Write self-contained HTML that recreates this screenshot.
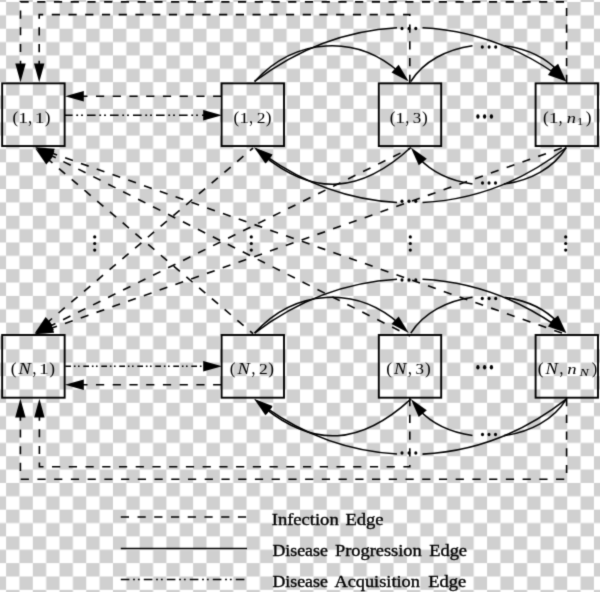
<!DOCTYPE html>
<html><head><meta charset="utf-8"><style>
html,body{margin:0;padding:0;background:#fff;}
body{width:600px;height:592px;overflow:hidden;}
svg{display:block;filter:grayscale(1);}
text{font-family:"Liberation Serif",serif;fill:#000;}
.l{fill:none;stroke:#000;stroke-width:1.6px;}
.c{fill:none;stroke:#000;stroke-width:1.55px;}
.b{fill:none;stroke:#000;stroke-width:1.9px;}
.lg{stroke:#000;stroke-width:0.35px;}
</style></head><body>
<svg width="600" height="592" viewBox="0 0 600 592">
<defs><filter id="bl" x="0" y="0" width="600" height="592" filterUnits="userSpaceOnUse" color-interpolation-filters="sRGB"><feConvolveMatrix order="3" kernelMatrix="0.01917 0.10012 0.01917 0.10012 0.52283 0.10012 0.01917 0.10012 0.01917" edgeMode="duplicate" preserveAlpha="true"/></filter><pattern id="ck" x="6.1" y="2.0" width="26.72" height="26.72" patternUnits="userSpaceOnUse">
<rect x="0" y="0" width="26.72" height="26.72" fill="#fff"/>
<rect x="0" y="0" width="13.36" height="13.36" fill="#d0d0d0"/>
<rect x="13.36" y="13.36" width="13.36" height="13.36" fill="#d0d0d0"/>
</pattern></defs>
<g filter="url(#bl)"><rect x="0" y="0" width="600" height="592" fill="url(#ck)"/>
<rect x="2.15" y="83.35" width="62.5" height="62.7" class="b"/>
<rect x="221.6" y="83.35" width="62.4" height="62.7" class="b"/>
<rect x="378.8" y="83.35" width="62.4" height="62.7" class="b"/>
<rect x="535.6" y="83.35" width="62.4" height="62.7" class="b"/>
<rect x="2.15" y="335" width="62.5" height="62.7" class="b"/>
<rect x="221.6" y="335" width="62.4" height="62.7" class="b"/>
<rect x="378.8" y="335" width="62.4" height="62.7" class="b"/>
<rect x="535.6" y="335" width="62.4" height="62.7" class="b"/>
<path d="M254.6 81.5 C295.09 37.11 356.1 34.03 399.43 72.27" class="c"/>
<path d="M408.8 81.5 L391.54 72.42 L398.66 64.84 Z"/>
<path d="M254.6 81.5 C298.52 48.4 347.55 30.47 397 27.72" class="c"/>
<path d="M422.49 27.65 C468.45 29.94 514.08 45.33 555.63 73.82" class="c"/>
<path d="M566.3 81.5 L547.94 74.92 L553.93 66.42 Z"/>
<path d="M410.8 81.5 C423.62 61.15 447.13 49.22 472.5 45.7" class="c"/>
<path d="M504.5 45.69 C525.24 48.54 544.75 57.03 558.2 71.13" class="c"/>
<path d="M566.3 81.5 L550.16 70.55 L558.08 63.81 Z"/>
<ellipse cx="402" cy="28.4" rx="1.55" ry="1.75"/>
<ellipse cx="409" cy="28.4" rx="1.55" ry="1.75"/>
<ellipse cx="415.8" cy="28.4" rx="1.55" ry="1.75"/>
<ellipse cx="482.3" cy="47" rx="1.55" ry="1.75"/>
<ellipse cx="489.1" cy="47" rx="1.55" ry="1.75"/>
<ellipse cx="495.7" cy="47" rx="1.55" ry="1.75"/>
<path d="M410.8 147.5 C360.63 193.45 313.98 196.31 264.25 156.09" class="c"/>
<path d="M254.3 147.5 L272.05 155.59 L265.36 163.56 Z"/>
<path d="M566.3 147.5 C522.72 181.64 472.84 199.99 422.5 202.54" class="c"/>
<path d="M397.01 202.48 C351.05 199.95 305.52 184.24 264.85 155.37" class="c"/>
<path d="M254.3 147.5 L272.55 154.39 L266.41 162.79 Z"/>
<path d="M566.3 147.5 C553.54 168.4 529.69 180.58 504 184.04" class="c"/>
<path d="M472.5 183.96 C451.68 181.04 432.12 172.38 418.75 157.98" class="c"/>
<path d="M410.8 147.5 L426.79 158.67 L418.78 165.3 Z"/>
<ellipse cx="402" cy="201.3" rx="1.55" ry="1.75"/>
<ellipse cx="409" cy="201.3" rx="1.55" ry="1.75"/>
<ellipse cx="415.8" cy="201.3" rx="1.55" ry="1.75"/>
<ellipse cx="482.5" cy="183" rx="1.55" ry="1.75"/>
<ellipse cx="489" cy="183" rx="1.55" ry="1.75"/>
<ellipse cx="495.5" cy="183" rx="1.55" ry="1.75"/>
<ellipse cx="477.9" cy="116.5" rx="1.65" ry="2.2"/>
<ellipse cx="484.6" cy="116.5" rx="1.65" ry="2.2"/>
<ellipse cx="491.4" cy="116.5" rx="1.65" ry="2.2"/>
<path d="M254.6 333.1 C295.09 288.71 356.1 285.63 399.43 323.87" class="c"/>
<path d="M408.8 333.1 L391.54 324.02 L398.66 316.44 Z"/>
<path d="M254.6 333.1 C298.52 300 347.55 282.07 397 279.32" class="c"/>
<path d="M422.49 279.25 C468.45 281.54 514.08 296.93 555.63 325.42" class="c"/>
<path d="M566.3 333.1 L547.94 326.52 L553.93 318.02 Z"/>
<path d="M410.8 333.1 C423.62 312.75 447.13 300.82 472.5 297.3" class="c"/>
<path d="M504.5 297.29 C525.24 300.14 544.75 308.63 558.2 322.73" class="c"/>
<path d="M566.3 333.1 L550.16 322.15 L558.08 315.41 Z"/>
<ellipse cx="402" cy="280" rx="1.55" ry="1.75"/>
<ellipse cx="409" cy="280" rx="1.55" ry="1.75"/>
<ellipse cx="415.8" cy="280" rx="1.55" ry="1.75"/>
<ellipse cx="482.3" cy="298.6" rx="1.55" ry="1.75"/>
<ellipse cx="489.1" cy="298.6" rx="1.55" ry="1.75"/>
<ellipse cx="495.7" cy="298.6" rx="1.55" ry="1.75"/>
<path d="M410.8 399.1 C360.63 445.05 313.98 447.91 264.25 407.69" class="c"/>
<path d="M254.3 399.1 L272.05 407.19 L265.36 415.16 Z"/>
<path d="M566.3 399.1 C522.72 433.24 472.84 451.59 422.5 454.14" class="c"/>
<path d="M397.01 454.08 C351.05 451.55 305.52 435.84 264.85 406.97" class="c"/>
<path d="M254.3 399.1 L272.55 405.99 L266.41 414.39 Z"/>
<path d="M566.3 399.1 C553.54 420 529.69 432.18 504 435.64" class="c"/>
<path d="M472.5 435.56 C451.68 432.64 432.12 423.98 418.75 409.58" class="c"/>
<path d="M410.8 399.1 L426.79 410.27 L418.78 416.9 Z"/>
<ellipse cx="402" cy="452.9" rx="1.55" ry="1.75"/>
<ellipse cx="409" cy="452.9" rx="1.55" ry="1.75"/>
<ellipse cx="415.8" cy="452.9" rx="1.55" ry="1.75"/>
<ellipse cx="482.5" cy="434.6" rx="1.55" ry="1.75"/>
<ellipse cx="489" cy="434.6" rx="1.55" ry="1.75"/>
<ellipse cx="495.5" cy="434.6" rx="1.55" ry="1.75"/>
<ellipse cx="477.9" cy="367.29" rx="1.65" ry="2.2"/>
<ellipse cx="484.6" cy="367.29" rx="1.65" ry="2.2"/>
<ellipse cx="491.4" cy="367.29" rx="1.65" ry="2.2"/>
<path d="M221.3 96.3 L78.16 96.3" class="l" stroke-dasharray="8.2 8.53" stroke-dashoffset="0"/>
<path d="M65 96.3 L83.8 91.1 L83.8 101.5 Z"/>
<path d="M64 115.2 L208.84 115.2" class="l" stroke-dasharray="8.6 3.7 1.8 3.0 1.8 4.1" stroke-dashoffset="0"/>
<path d="M222 115.2 L203.2 120.4 L203.2 110 Z"/>
<path d="M64 366.2 L208.84 366.2" class="l" stroke-dasharray="5.7 2.9 1.6 2.5 1.6 3.7" stroke-dashoffset="-1.3"/>
<path d="M222 366.2 L203.2 371.4 L203.2 361 Z"/>
<path d="M221.3 384.8 L78.16 384.8" class="l" stroke-dasharray="8.2 8.53" stroke-dashoffset="0"/>
<path d="M65 384.8 L83.8 379.6 L83.8 390 Z"/>
<path d="M409.8 83 L409.8 14.6 L39.2 14.6 L39.2 69.04" class="l" stroke-dasharray="8.2 8.53" stroke-dashoffset="0"/>
<path d="M39.2 82.2 L34 63.4 L44.4 63.4 Z"/>
<path d="M566.6 83 L566.6 1.9 L20.5 1.9 L20.5 69.04" class="l" stroke-dasharray="8.2 8.53" stroke-dashoffset="0"/>
<path d="M20.5 82.2 L15.3 63.4 L25.7 63.4 Z"/>
<path d="M409.8 398 L409.8 466.7 L39.4 466.7 L39.4 411.96" class="l" stroke-dasharray="8.2 8.53" stroke-dashoffset="0"/>
<path d="M39.4 398.8 L44.6 417.6 L34.2 417.6 Z"/>
<path d="M566.6 398 L566.6 479.3 L20.4 479.3 L20.4 411.96" class="l" stroke-dasharray="8.2 8.53" stroke-dashoffset="0"/>
<path d="M20.4 398.8 L25.6 417.6 L15.2 417.6 Z"/>
<path d="M253 333.6 L45.32 156.93" class="l" stroke-dasharray="8.2 8.53" stroke-dashoffset="4.39"/>
<path d="M35.3 148.4 L52.99 156.62 L46.25 164.54 Z"/>
<path d="M410 336 L47.06 153.41" class="l" stroke-dasharray="8.2 8.53" stroke-dashoffset="4.96"/>
<path d="M35.3 147.5 L54.43 151.3 L49.76 160.59 Z"/>
<path d="M567 334.9 L47.71 151.68" class="l" stroke-dasharray="8.2 8.53" stroke-dashoffset="11.38"/>
<path d="M35.3 147.3 L54.76 148.65 L51.3 158.46 Z"/>
<path d="M253 148.1 L44.74 324.69" class="l" stroke-dasharray="8.2 8.53" stroke-dashoffset="4.18"/>
<path d="M34.7 333.2 L45.68 317.08 L52.4 325.01 Z"/>
<path d="M410 148.4 L46.5 327.87" class="l" stroke-dasharray="8.2 8.53" stroke-dashoffset="6.1"/>
<path d="M34.7 333.7 L49.26 320.71 L53.86 330.04 Z"/>
<path d="M567 146.2 L47.11 329.82" class="l" stroke-dasharray="8.2 8.53" stroke-dashoffset="11.12"/>
<path d="M34.7 334.2 L50.7 323.04 L54.16 332.84 Z"/>
<circle cx="94.7" cy="236.9" r="1.6"/>
<circle cx="94.7" cy="243.5" r="1.6"/>
<circle cx="94.7" cy="250.1" r="1.6"/>
<circle cx="251.3" cy="236.9" r="1.6"/>
<circle cx="251.3" cy="243.5" r="1.6"/>
<circle cx="251.3" cy="250.1" r="1.6"/>
<circle cx="410.3" cy="236.9" r="1.6"/>
<circle cx="410.3" cy="243.5" r="1.6"/>
<circle cx="410.3" cy="250.1" r="1.6"/>
<circle cx="565.7" cy="236.9" r="1.6"/>
<circle cx="565.7" cy="243.5" r="1.6"/>
<circle cx="565.7" cy="250.1" r="1.6"/>
<text transform="matrix(0.1713 0 0 0.172 12.45 122.94)" font-size="100">(</text>
<text transform="matrix(0.195 0 0 0.15 18.15 123.2)" font-size="100">1</text>
<text transform="matrix(0.1477 0 0 0.1947 28.24 123.01)" font-size="100">,</text>
<text transform="matrix(0.195 0 0 0.15 34.75 123.2)" font-size="100">1</text>
<text transform="matrix(0.1713 0 0 0.172 44.75 122.94)" font-size="100">)</text>
<text transform="matrix(0.1713 0 0 0.172 233.5 122.94)" font-size="100">(</text>
<text transform="matrix(0.195 0 0 0.15 239.2 123.2)" font-size="100">1</text>
<text transform="matrix(0.1477 0 0 0.1947 249.29 123.01)" font-size="100">,</text>
<text transform="matrix(0.1746 0 0 0.1495 256.68 123.2)" font-size="100">2</text>
<text transform="matrix(0.1713 0 0 0.172 265.8 122.94)" font-size="100">)</text>
<text transform="matrix(0.1713 0 0 0.172 389.65 122.94)" font-size="100">(</text>
<text transform="matrix(0.195 0 0 0.15 395.35 123.2)" font-size="100">1</text>
<text transform="matrix(0.1477 0 0 0.1947 405.44 123.01)" font-size="100">,</text>
<text transform="matrix(0.1695 0 0 0.1473 412.79 123.06)" font-size="100">3</text>
<text transform="matrix(0.1713 0 0 0.172 421.95 122.94)" font-size="100">)</text>
<text transform="matrix(0.1713 0 0 0.172 543.05 122.94)" font-size="100">(</text>
<text transform="matrix(0.195 0 0 0.15 548.75 123.2)" font-size="100">1</text>
<text transform="matrix(0.1477 0 0 0.1947 558.84 123.01)" font-size="100">,</text>
<text transform="matrix(0.1849 0 0 0.1422 566.78 123)" font-size="100" font-style="italic">n</text>
<text transform="matrix(0.1241 0 0 0.0954 577.08 125)" font-size="100">1</text>
<text transform="matrix(0.1713 0 0 0.172 585.75 122.94)" font-size="100">)</text>
<text transform="matrix(0.1752 0 0 0.172 10.63 374.44)" font-size="100">(</text>
<text transform="matrix(0.1845 0 0 0.1604 18.39 374.2)" font-size="100" font-style="italic">N</text>
<text transform="matrix(0.1544 0 0 0.1947 32.41 374.01)" font-size="100">,</text>
<text transform="matrix(0.193 0 0 0.1484 39.01 374.2)" font-size="100">1</text>
<text transform="matrix(0.1713 0 0 0.172 49.25 374.44)" font-size="100">)</text>
<text transform="matrix(0.1752 0 0 0.172 229.73 374.44)" font-size="100">(</text>
<text transform="matrix(0.1845 0 0 0.1604 237.49 374.2)" font-size="100" font-style="italic">N</text>
<text transform="matrix(0.1544 0 0 0.1947 251.51 374.01)" font-size="100">,</text>
<text transform="matrix(0.1746 0 0 0.148 258.93 374.2)" font-size="100">2</text>
<text transform="matrix(0.1713 0 0 0.172 268.35 374.44)" font-size="100">)</text>
<text transform="matrix(0.1752 0 0 0.172 386.33 374.44)" font-size="100">(</text>
<text transform="matrix(0.1845 0 0 0.1604 394.09 374.2)" font-size="100" font-style="italic">N</text>
<text transform="matrix(0.1544 0 0 0.1947 408.11 374.01)" font-size="100">,</text>
<text transform="matrix(0.1695 0 0 0.1459 415.49 374.06)" font-size="100">3</text>
<text transform="matrix(0.1713 0 0 0.172 424.95 374.44)" font-size="100">)</text>
<text transform="matrix(0.1752 0 0 0.172 537.73 374.44)" font-size="100">(</text>
<text transform="matrix(0.1845 0 0 0.1604 545.49 374.2)" font-size="100" font-style="italic">N</text>
<text transform="matrix(0.1544 0 0 0.1947 559.51 374.01)" font-size="100">,</text>
<text transform="matrix(0.1876 0 0 0.1443 567.36 374.2)" font-size="100" font-style="italic">n</text>
<text transform="matrix(0.1388 0 0 0.1115 579.4 376.3)" font-size="100" font-style="italic">N</text>
<text transform="matrix(0.1635 0 0 0.172 591.77 374.44)" font-size="100">)</text>
<path d="M120.8 517 L247 517" class="l" stroke-dasharray="8.2 8.53" stroke-dashoffset="0"/>
<path d="M120.8 548.5 L247 548.5" class="l"/>
<path d="M120.8 579.5 L247 579.5" class="l" stroke-dasharray="8.6 3.7 1.8 3.0 1.8 4.1" stroke-dashoffset="0"/>
<text class="lg" transform="matrix(1.1593 0 0 1 271.73 525)" font-size="16">Infection</text>
<text class="lg" transform="matrix(1.1614 0 0 1 345.46 525)" font-size="16">Edge</text>
<text class="lg" transform="matrix(1.112 0 0 1 272.49 556)" font-size="16">Disease</text>
<text class="lg" transform="matrix(1.1489 0 0 1 334.97 556)" font-size="16">Progression</text>
<text class="lg" transform="matrix(1.1519 0 0 1 429.17 556)" font-size="16">Edge</text>
<text class="lg" transform="matrix(1.112 0 0 1 272.49 587.2)" font-size="16">Disease</text>
<text class="lg" transform="matrix(1.1432 0 0 1 334.52 587.2)" font-size="16">Acquisition</text>
<text class="lg" transform="matrix(1.1519 0 0 1 428.27 587.2)" font-size="16">Edge</text>
</g></svg>
</body></html>
